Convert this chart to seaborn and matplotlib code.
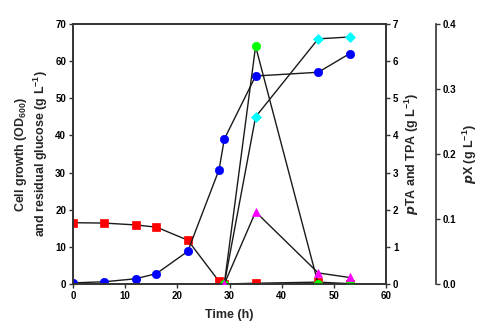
import matplotlib
matplotlib.use("Agg")
import matplotlib.pyplot as plt
import seaborn as sns
import pandas as pd

sns.set_style("ticks")
plt.rcParams['font.family'] = ['Liberation Sans', 'DejaVu Sans']
plt.rcParams['font.weight'] = 'bold'
plt.rcParams['mathtext.default'] = 'regular'

# Data
t_od = [0, 6, 12, 16, 22, 28, 29, 35, 47, 53]
od = [0.3, 0.6, 1.4, 2.8, 8.8, 30.8, 39.0, 56.0, 57.0, 62.0]
t_glc = [0, 6, 12, 16, 22, 28, 29, 35, 47, 53]
glucose = [16.5, 16.4, 15.9, 15.3, 11.8, 0.7, 0.0, 0.2, 0.5, 0.1]
t_prod = [29, 35, 47, 53]
pta = [0.0, 6.4, 0.0, 0.0]
tpa = [0.0, 4.5, 6.6, 6.65]
px = [0.0, 0.111, 0.017, 0.010]

fig = plt.figure(figsize=(4.91, 3.36), dpi=100)
ax1 = fig.add_axes([0.1487, 0.1548, 0.6375, 0.7738])
ax2 = ax1.twinx()
ax3 = ax1.twinx()

lw = 1.0
ms = 6
def draw(ax, x, y, marker, col, ms=ms):
    sns.lineplot(x=x, y=y, ax=ax, color='#1a1a1a', lw=lw, marker=marker,
                 markersize=ms, markerfacecolor=col, markeredgecolor=col,
                 markeredgewidth=0.5, legend=False, estimator=None, sort=False)

draw(ax1, t_glc, glucose, 's', '#ff0000')
draw(ax1, t_od, od, 'o', '#0000ff')
draw(ax3, t_prod, px, '^', '#ff00ff')
draw(ax2, t_prod, tpa, 'D', '#00ffff', ms=5.5)
draw(ax2, t_prod, pta, 'o', '#00ff00')

ax1.set_xlim(0, 60)
ax1.set_ylim(0, 70)
ax2.set_ylim(0, 7)
ax3.set_ylim(0, 0.4)
ax1.set_xticks(range(0, 61, 10))
ax1.set_yticks(range(0, 71, 10))
ax2.set_yticks(range(0, 8))
ax3.set_yticks([0.0, 0.1, 0.2, 0.3, 0.4])
ax3.set_yticklabels(['0.0', '0.1', '0.2', '0.3', '0.4'])

ax3.spines['right'].set_position(('axes', 1.16))
for ax in (ax1, ax2, ax3):
    for s in ax.spines.values():
        s.set_linewidth(1.2)
        s.set_color('#333333')
    ax.tick_params(direction='out', length=3, width=1.0, colors='#333333',
                   labelsize=7, labelcolor='black', pad=2)
    for lab in ax.get_xticklabels() + ax.get_yticklabels():
        lab.set_fontweight('bold')
for sp in ('top', 'left', 'bottom'):
    ax3.spines[sp].set_visible(False)

ax1.set_xlabel('Time (h)', fontsize=9, fontweight='bold', labelpad=6)
ax1.set_ylabel('Cell growth (OD$_{600}$)\nand residual glucose (g L$^{-1}$)',
               fontsize=9, fontweight='bold', labelpad=4)
ax2.set_ylabel('$\\it{p}$TA and TPA (g L$^{-1}$)', fontsize=9, fontweight='bold', labelpad=3)
ax3.set_ylabel('$\\it{p}$X (g L$^{-1}$)', fontsize=9, fontweight='bold', labelpad=3)

fig.savefig('out.png', dpi=100)
